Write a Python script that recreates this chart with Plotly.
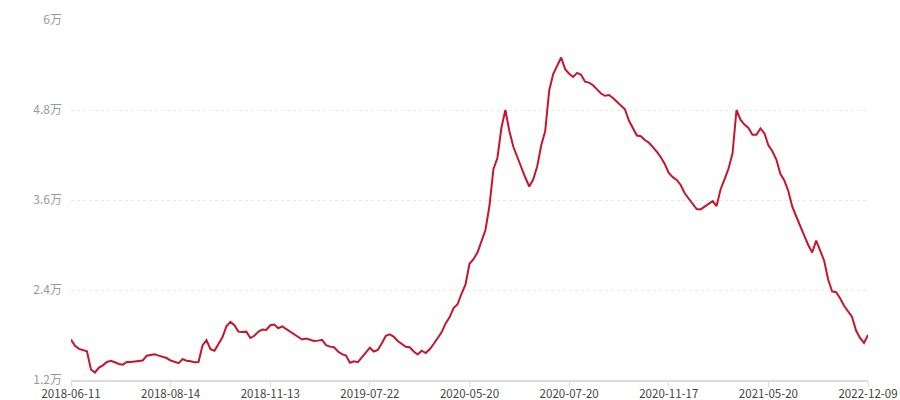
import plotly.graph_objects as go

# 数值单位：万
values = [
    1.74, 1.655, 1.615, 1.60, 1.583, 1.34, 1.30, 1.365, 1.395, 1.44,
    1.457, 1.437, 1.413, 1.405, 1.44, 1.44, 1.445, 1.45, 1.46, 1.524,
    1.535, 1.543, 1.525, 1.51, 1.493, 1.46, 1.44, 1.424, 1.478, 1.457,
    1.45, 1.436, 1.44, 1.66, 1.73, 1.61, 1.59, 1.69, 1.77, 1.915,
    1.975, 1.93, 1.845, 1.84, 1.845, 1.76, 1.79, 1.844, 1.873, 1.868,
    1.93, 1.94, 1.89, 1.915, 1.88, 1.84, 1.805, 1.778, 1.74, 1.753,
    1.74, 1.72, 1.725, 1.735, 1.665, 1.645, 1.636, 1.58, 1.545, 1.526,
    1.43, 1.45, 1.437, 1.50, 1.57, 1.631, 1.58, 1.60, 1.69, 1.79,
    1.81, 1.775, 1.72, 1.675, 1.643, 1.636, 1.58, 1.54, 1.59, 1.56,
    1.61, 1.68, 1.75, 1.835, 1.955, 2.035, 2.16, 2.21, 2.35, 2.475,
    2.75, 2.81, 2.90, 3.04, 3.20, 3.52, 4.01, 4.16, 4.56, 4.80,
    4.52, 4.31, 4.17, 4.02, 3.90, 3.78, 3.876, 4.05, 4.33, 4.52,
    5.06, 5.28, 5.38, 5.50, 5.345, 5.283, 5.24, 5.295, 5.27, 5.177,
    5.165, 5.13, 5.075, 5.02, 4.99, 5.0, 4.96, 4.91, 4.87, 4.81,
    4.66, 4.55, 4.46, 4.45, 4.40, 4.365, 4.31, 4.244, 4.17, 4.08,
    3.96, 3.905, 3.867, 3.80, 3.69, 3.616, 3.545, 3.48, 3.475, 3.512,
    3.545, 3.585, 3.52, 3.74, 3.875, 4.02, 4.22, 4.80, 4.67, 4.605,
    4.56, 4.47, 4.47, 4.555, 4.49, 4.33, 4.25, 4.14, 3.95, 3.86,
    3.72, 3.51, 3.38, 3.24, 3.125, 3.0, 2.90, 3.06, 2.92, 2.79,
    2.54, 2.38, 2.37, 2.29, 2.19, 2.12, 2.04, 1.86, 1.76, 1.695,
    1.80,
]

tick_labels = [
    "2018-06-11", "2018-08-14", "2018-11-13", "2019-07-22", "2020-05-20",
    "2020-07-20", "2020-11-17", "2021-05-20", "2022-12-09",
]
y_ticks = [1.2, 2.4, 3.6, 4.8, 6]
y_tick_text = ["1.2万", "2.4万", "3.6万", "4.8万", "6万"]

idx = list(range(len(values)))
step = (len(values) - 1) // (len(tick_labels) - 1)
tick_pos = [i * step for i in range(len(tick_labels))]

font_family = "Microsoft YaHei, Noto Sans CJK SC, sans-serif"

fig = go.Figure(go.Scatter(
    x=idx, y=values, mode="lines",
    line=dict(color="#c8152d", width=2),
    hoverinfo="skip",
))

fig.update_layout(
    width=900, height=400,
    margin=dict(l=71, r=32, t=20, b=20),
    paper_bgcolor="white", plot_bgcolor="white",
    showlegend=False,
    font=dict(family=font_family),
)
fig.update_xaxes(
    range=[0, len(values) - 1],
    tickvals=tick_pos, ticktext=tick_labels,
    showgrid=False, zeroline=False, automargin=False,
    showline=True, linecolor="#dcdcdc", linewidth=2,
    ticks="outside", ticklen=5, tickcolor="#dcdcdc", tickwidth=1,
    ticklabelstandoff=-3,
    tickfont=dict(size=11.5, color="#444"),
)
fig.update_yaxes(
    range=[1.2, 6],
    tickvals=y_ticks, ticktext=y_tick_text,
    showgrid=True, gridcolor="#e8e8e8", griddash="3px,3px", gridwidth=1,
    zeroline=False, showline=False, automargin=False,
    ticks="", ticklabelstandoff=8,
    tickfont=dict(size=12, color="#9a9a9a"),
)

# drop the default 8px body margin so the figure fills the window exactly
fig.write_html(
    "out.html",
    config={"displayModeBar": False},
    post_script="document.body.style.margin='0';",
)
